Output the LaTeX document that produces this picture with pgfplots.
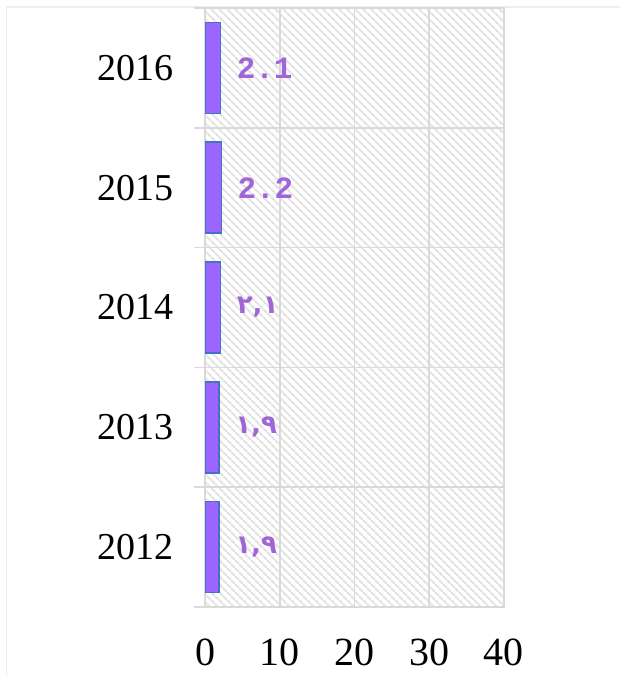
\documentclass[border=0pt]{standalone}
\usepackage{fontspec}
\setmainfont{Liberation Serif}
\newfontfamily\monofont{Liberation Mono}
\newfontfamily\arabicfont[Script=Arabic]{DejaVu Sans}
\usepackage{pgfplots}
\pgfplotsset{compat=1.18}
\usetikzlibrary{patterns.meta}
\definecolor{barfill}{HTML}{9966FF}
\definecolor{barline}{HTML}{4472C4}
\definecolor{labcol}{HTML}{A066D8}
\definecolor{gridc}{HTML}{D9D9D9}
\definecolor{hatchc}{HTML}{E3E3E3}
\definecolor{framec}{HTML}{EEEEEE}
\newcommand\latlab[1]{{\monofont\bfseries\fontsize{31bp}{33bp}\selectfont #1}}
\newcommand\arlab[1]{{\arabicfont\bfseries\fontsize{26bp}{28bp}\selectfont #1}}
\begin{document}
\begin{tikzpicture}
\useasboundingbox (0,0) rectangle (620bp,676bp);
\draw[color=framec, line width=1.5bp] (6.5bp,0) -- (6.5bp,669bp) -- (620bp,669bp);
\begin{axis}[
 at={(205bp,69bp)}, anchor=south west,
 scale only axis, width=299bp, height=599bp,
 xbar, bar width=91bp,
 xmin=0, xmax=40, ymin=-0.5, ymax=4.5,
 xtick={0,10,20,30,40},
 ytick={0,1,2,3,4},
 yticklabels={2012,2013,2014,2015,2016},
 extra y ticks={-0.5,0.5,1.5,2.5,3.5,4.5},
 extra y tick labels={},
 extra y tick style={ymajorgrids=true, major tick length=11bp, tick align=outside,
   major tick style={draw=gridc, line width=1.5bp},
   major grid style={draw=gridc, line width=1.5bp}},
 xmajorgrids,
 grid style={gridc, line width=1.5bp},
 axis line style={gridc, line width=1.5bp},
 ytick pos=left, xtick pos=bottom,
 major tick length=0pt,
 /pgf/number format/assume math mode=true,
 ticklabel style={font=\fontsize{38bp}{40bp}\selectfont},
 xticklabel style={font=\fontsize{40bp}{42bp}\selectfont, yshift=-28bp},
 yticklabel style={xshift=-28bp},
 axis background/.style={pattern={Lines[angle=-45,distance=6bp,line width=2.5bp]}, pattern color=hatchc},
 point meta=explicit symbolic,
 nodes near coords,
 every node near coord/.append style={anchor=west, xshift=12bp, text=labcol},
]
\addplot[fill=barfill, draw=barline, line width=1.5bp] coordinates {
 (1.9,0) [\arlab{١,٩}]
 (1.9,1) [\arlab{١,٩}]
 (2.1,2) [\arlab{٢,١}]
 (2.2,3) [\latlab{2.2}]
 (2.1,4) [\latlab{2.1}]
};
\end{axis}
\end{tikzpicture}
\end{document}
